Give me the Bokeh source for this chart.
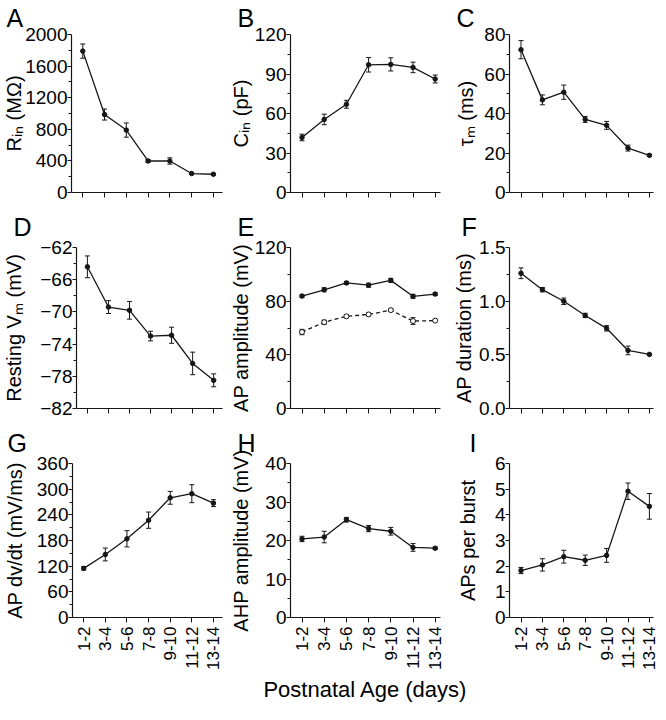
import math
from bokeh.plotting import figure
from bokeh.models import (ColumnDataSource, Whisker, TeeHead, FixedTicker, Label,
                          Range1d, NumeralTickFormatter)
from bokeh.layouts import column, row
from bokeh.embed import file_html
from bokeh.resources import INLINE

# ---------------- data ----------------
ages = ["1-2", "3-4", "5-6", "7-8", "9-10", "11-12", "13-14"]

rin_mean = [1790, 987, 790, 399, 399, 240, 231]
rin_sem = [90, 70, 90, 18, 40, 12, 10]
cin_mean = [41.8, 55.5, 67.0, 97.0, 97.3, 95.0, 86.2]
cin_sem = [2.5, 4.0, 3.0, 5.5, 5.0, 4.0, 3.0]
tau_mean = [72.3, 46.9, 50.8, 37.0, 34.0, 22.5, 18.8]
tau_sem = [4.6, 2.5, 3.6, 1.5, 2.0, 1.5, 0.5]
vm_mean = [-64.4, -69.4, -69.8, -73.0, -72.9, -76.4, -78.5]
vm_sem = [1.35, 0.8, 1.1, 0.6, 1.0, 1.4, 0.8]
ap_amp_mean = [83.8, 88.5, 93.6, 91.9, 95.5, 83.6, 85.3]
ap_amp_sem = [1.0, 1.5, 1.0, 1.5, 1.5, 1.5, 1.0]
ap_amp2_mean = [57.0, 64.3, 68.7, 70.1, 73.3, 65.2, 65.5]
ap_amp2_sem = [2.0, 1.5, 1.0, 1.0, 1.0, 2.5, 0.5]
ap_dur_mean = [1.26, 1.107, 0.999, 0.867, 0.747, 0.541, 0.504]
ap_dur_sem = [0.05, 0.02, 0.03, 0.02, 0.025, 0.04, 0.01]
dvdt_mean = [114.9, 147.3, 184.0, 227.5, 279.8, 289.4, 267.3]
dvdt_sem = [4, 15, 19, 19, 15, 21, 8]
ahp_mean = [20.4, 20.9, 25.4, 23.1, 22.4, 18.2, 18.0]
ahp_sem = [0.7, 1.5, 0.6, 0.8, 1.0, 1.0, 0.3]
burst_mean = [1.83, 2.05, 2.37, 2.23, 2.42, 4.92, 4.33]
burst_sem = [0.12, 0.24, 0.25, 0.20, 0.27, 0.32, 0.50]

rin_ticks = [0, 400, 800, 1200, 1600, 2000]
cin_ticks = [0, 30, 60, 90, 120]
tau_ticks = [0, 20, 40, 60, 80]
vm_ticks = [-82, -78, -74, -70, -66, -62]
amp_ticks = [0, 40, 80, 120]
dur_ticks = [0.0, 0.5, 1.0, 1.5]
dvdt_ticks = [0, 60, 120, 180, 240, 300, 360]
ahp_ticks = [0, 10, 20, 30, 40]
burst_ticks = [0, 1, 2, 3, 4, 5, 6]

x_title = "Postnatal Age (days)"

# ---------------- styling ----------------
FONT = "Liberation Sans"
INK = "#161616"

COLS = [dict(bl=68, fw=154, br=4, sp=22.2),
        dict(bl=64, fw=150, br=6, sp=22.2),
        dict(bl=63, fw=144, br=5, sp=21.4)]
ROWS = [dict(bt=34, fh=158, bb=14, st=2),
        dict(bt=41, fh=161, bb=14, st=10),
        dict(bt=41, fh=156, bb=53, st=10)]
STRIP_H = 32


def mids(t):
    return [(a + b) / 2 for a, b in zip(t[:-1], t[1:])]


def panel(letter, ylabel, ticks, series, c, r, lab_standoff, letter_dx,
          minor=True, fmt=None):
    cg, rg = COLS[c], ROWS[r]
    x0 = -11.5 / cg["sp"]
    p = figure(width=cg["bl"] + cg["fw"] + cg["br"], height=rg["bt"] + rg["fh"] + rg["bb"],
               min_border_left=cg["bl"], min_border_right=cg["br"],
               min_border_top=rg["bt"], min_border_bottom=rg["bb"],
               x_range=Range1d(x0, x0 + cg["fw"] / cg["sp"]),
               y_range=Range1d(ticks[0], ticks[-1]),
               toolbar_location=None, output_backend="svg",
               outline_line_color=None, background_fill_color="white",
               border_fill_color="white")
    p.xgrid.visible = False
    p.ygrid.visible = False

    p.title.text = letter
    p.title.align = "left"
    p.title.vertical_align = "top"
    p.title.offset = letter_dx
    p.title.standoff = rg["st"]
    p.title.text_font = FONT
    p.title.text_font_size = "25px"
    p.title.text_font_style = "normal"
    p.title.text_color = "black"

    xs = list(range(len(ages)))
    for means, sems, dashed in series:
        src = ColumnDataSource(dict(x=xs, y=means,
                                    lo=[m - s for m, s in zip(means, sems)],
                                    hi=[m + s for m, s in zip(means, sems)]))
        p.line("x", "y", source=src, line_color=INK, line_width=1.3,
               line_dash="4 3" if dashed else "solid")
        w = Whisker(source=src, base="x", upper="hi", lower="lo",
                    line_color=INK, line_width=1.0,
                    upper_head=TeeHead(size=5, line_color=INK, line_width=1.0),
                    lower_head=TeeHead(size=5, line_color=INK, line_width=1.0))
        p.add_layout(w)
        if dashed:
            p.scatter("x", "y", source=src, size=5, marker="circle",
                      fill_color="white", line_color=INK, line_width=1.0)
        else:
            p.scatter("x", "y", source=src, size=4.5, marker="circle",
                      fill_color=INK, line_color=INK)

    ya = p.yaxis[0]
    ya.ticker = FixedTicker(ticks=ticks, minor_ticks=mids(ticks) if minor else [])
    if fmt:
        ya.formatter = NumeralTickFormatter(format=fmt)
    ya.axis_line_color = INK
    ya.axis_line_width = 1.2
    ya.major_tick_line_color = INK
    ya.minor_tick_line_color = INK
    ya.major_tick_in = 0
    ya.major_tick_out = 4
    ya.minor_tick_in = 0
    ya.minor_tick_out = 3
    ya.major_label_standoff = 0
    ya.major_label_text_font = FONT
    ya.major_label_text_font_size = "19px"
    ya.major_label_text_color = "black"
    ya.axis_label = ylabel
    ya.axis_label_text_font = FONT
    ya.axis_label_text_font_size = "20px"
    ya.axis_label_text_font_style = "normal"
    ya.axis_label_text_color = "black"
    ya.axis_label_standoff = lab_standoff

    xa = p.xaxis[0]
    xa.ticker = FixedTicker(ticks=xs, minor_ticks=[])
    xa.axis_line_color = INK
    xa.axis_line_width = 1.2
    xa.major_tick_line_color = INK
    xa.major_tick_in = 0
    xa.major_tick_out = 5
    if r == 2:
        xa.major_label_overrides = {i: a for i, a in enumerate(ages)}
        xa.major_label_orientation = math.pi / 2
        xa.major_label_standoff = 4
        xa.major_label_text_font = FONT
        xa.major_label_text_font_size = "17px"
        xa.major_label_text_color = "black"
    else:
        xa.major_label_overrides = {i: "" for i in xs}
        xa.major_label_standoff = 0
        xa.major_label_text_font_size = "1px"
    return p


pA = panel("A", "Rᵢₙ (MΩ)", rin_ticks, [(rin_mean, rin_sem, False)], 0, 0, -3, -65)
pB = panel("B", "Cᵢₙ (pF)", cin_ticks, [(cin_mean, cin_sem, False)], 1, 0, 0, -53)
pC = panel("C", "τₘ (ms)", tau_ticks, [(tau_mean, tau_sem, False)], 2, 0, 4, -53)

pD = panel("D", "Resting Vₘ (mV)", vm_ticks, [(vm_mean, vm_sem, False)], 0, 1, 12, -63)
pE = panel("E", "AP amplitude (mV)", amp_ticks,
           [(ap_amp_mean, ap_amp_sem, False), (ap_amp2_mean, ap_amp2_sem, True)], 1, 1, 0, -53)
pF = panel("F", "AP duration (ms)", dur_ticks, [(ap_dur_mean, ap_dur_sem, False)], 2, 1, 1, -48,
           fmt="0.0")

pG = panel("G", "AP dv/dt (mV/ms)", dvdt_ticks, [(dvdt_mean, dvdt_sem, False)], 0, 2, 8, -65)
pH = panel("H", "AHP amplitude (mV)", ahp_ticks, [(ahp_mean, ahp_sem, False)], 1, 2, 10, -53)
pI = panel("I", "APs per burst", burst_ticks, [(burst_mean, burst_sem, False)], 2, 2, 13, -40,
           minor=False)

# shared x-axis title strip beneath the bottom row
total_w = sum(cg["bl"] + cg["fw"] + cg["br"] for cg in COLS)
strip = figure(width=total_w, height=STRIP_H, min_border=0, title=None,
               x_range=Range1d(0, total_w), y_range=Range1d(0, STRIP_H),
               x_axis_location=None, y_axis_location=None,
               toolbar_location=None, output_backend="svg",
               outline_line_color=None, background_fill_color="white",
               border_fill_color="white")
strip.xgrid.visible = False
strip.ygrid.visible = False
h_center = COLS[0]["bl"] + COLS[0]["fw"] + COLS[0]["br"] + COLS[1]["bl"] + COLS[1]["fw"] / 2
strip.add_layout(Label(x=h_center, y=3, text=x_title, text_font=FONT,
                       text_font_size="22px", text_color="black",
                       text_align="center", text_baseline="bottom"))

layout = column(row(pA, pB, pC), row(pD, pE, pF), row(pG, pH, pI), strip)

open("out.html", "w").write(file_html(layout, INLINE))
